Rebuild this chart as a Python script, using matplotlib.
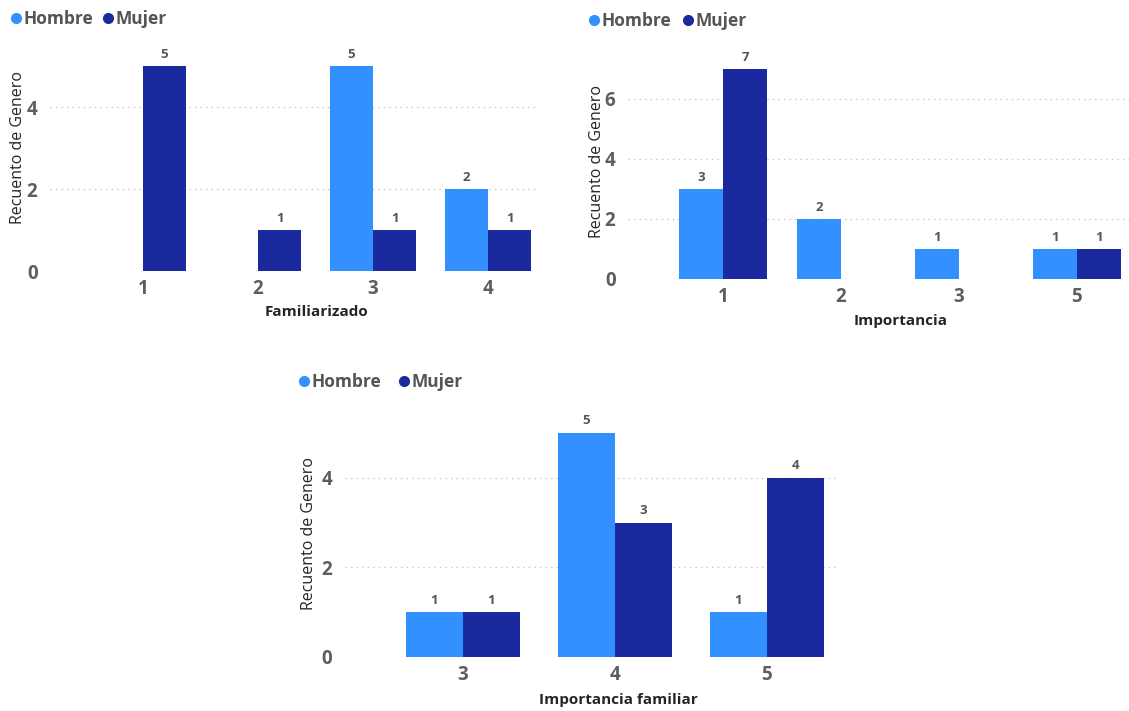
import matplotlib
matplotlib.use("Agg")
import matplotlib.pyplot as plt
from matplotlib.lines import Line2D
import numpy as np

# Data: counts of Genero per answer
fam_cats = ["1", "2", "3", "4"]
fam_hombre = [0, 0, 5, 2]
fam_mujer = [5, 1, 1, 1]

imp_cats = ["1", "2", "3", "5"]
imp_hombre = [3, 2, 1, 1]
imp_mujer = [7, 0, 0, 1]

impf_cats = ["3", "4", "5"]
impf_hombre = [1, 5, 1]
impf_mujer = [1, 3, 4]

series_names = ["Hombre", "Mujer"]

C_H = "#3391FF"
C_M = "#1B299E"
TICK_C = "#605E5C"
LBL_C = "#555555"
TITLE_C = "#252423"

W, H = 1129, 711
fig = plt.figure(figsize=(W / 100, H / 100), dpi=100)
fig.patch.set_facecolor("white")
plt.rcParams["font.family"] = ["Open Sans", "DejaVu Sans"]


def fx(x):
    return x / W


def fy(y):
    return 1 - y / H


def make_axes(x0, x1, y_base, px_per_unit, ymax):
    y_top = y_base - ymax * px_per_unit
    return fig.add_axes([fx(x0), fy(y_base), (x1 - x0) / W, (y_base - y_top) / H])


def draw_chart(ax, cats, hombre, mujer, yticks, ymax, xlim, xtitle, xt_pos, yt_pos, legend_pos):
    x = np.arange(len(cats))
    bw = 0.375
    ax.bar(x - bw / 2, hombre, width=bw, color=C_H, zorder=3)
    ax.bar(x + bw / 2, mujer, width=bw, color=C_M, zorder=3)
    for xi, v in zip(x - bw / 2, hombre):
        if v:
            ax.text(xi, v + ymax * 0.022, str(v), ha="center", va="bottom",
                    fontsize=9.5, fontweight="bold", color=LBL_C)
    for xi, v in zip(x + bw / 2, mujer):
        if v:
            ax.text(xi, v + ymax * 0.022, str(v), ha="center", va="bottom",
                    fontsize=9.5, fontweight="bold", color=LBL_C)
    ax.set_xlim(*xlim)
    ax.set_ylim(0, ymax)
    ax.set_xticks(x)
    ax.set_xticklabels(cats)
    ax.set_yticks(yticks)
    ax.set_yticklabels([str(t) for t in yticks])
    ax.tick_params(axis="both", length=0, labelsize=13.5, colors=TICK_C)
    ax.tick_params(axis="x", pad=6)
    ax.tick_params(axis="y", pad=9)
    for lab in ax.get_xticklabels() + ax.get_yticklabels():
        lab.set_fontweight("bold")
    for s in ax.spines.values():
        s.set_visible(False)
    ax.grid(axis="y", linestyle=(0, (1, 3)), color="#C8C6C4", linewidth=1, zorder=0)
    ax.set_axisbelow(True)
    ax.patch.set_alpha(0)

    fig.text(fx(xt_pos[0]), fy(xt_pos[1]), xtitle, ha="center", va="center",
             fontsize=11, fontweight="bold", color=TITLE_C)
    fig.text(fx(yt_pos[0]), fy(yt_pos[1]), "Recuento de Genero", ha="center", va="center",
             rotation=90, fontsize=11.5, color=TITLE_C)

    # legend: dot + label for each series
    lx, ly, gap = legend_pos
    for i, (name, col) in enumerate(zip(series_names, [C_H, C_M])):
        dx = lx + i * gap
        fig.add_artist(Line2D([fx(dx)], [fy(ly - 1)], marker="o", markersize=7,
                              color=col, linestyle="none", transform=fig.transFigure))
        fig.text(fx(dx + 7.5), fy(ly), name, ha="left", va="center",
                 fontsize=12.5, fontweight="bold", color=LBL_C)


ax1 = make_axes(50, 535, 271, 41, 5.6)
draw_chart(ax1, fam_cats, fam_hombre, fam_mujer, [0, 2, 4], 5.6,
           ((50 - 143) / 115, (535 - 143) / 115), "Familiarizado",
           (317, 312), (18, 147), (16, 19, 92))

ax2 = make_axes(628, 1129, 279, 30, 7.6)
draw_chart(ax2, imp_cats, imp_hombre, imp_mujer, [0, 2, 4, 6], 7.6,
           ((628 - 723) / 118, (1129 - 723) / 118), "Importancia",
           (901, 321), (597, 162), (594, 21, 94))

ax3 = make_axes(345, 838, 657, 44.8, 5.6)
draw_chart(ax3, impf_cats, impf_hombre, impf_mujer, [0, 2, 4], 5.6,
           ((345 - 463) / 152, (838 - 463) / 152), "Importancia familiar",
           (618, 700), (309, 533), (304, 382, 100))

fig.savefig("out.png", dpi=100, facecolor="white")
